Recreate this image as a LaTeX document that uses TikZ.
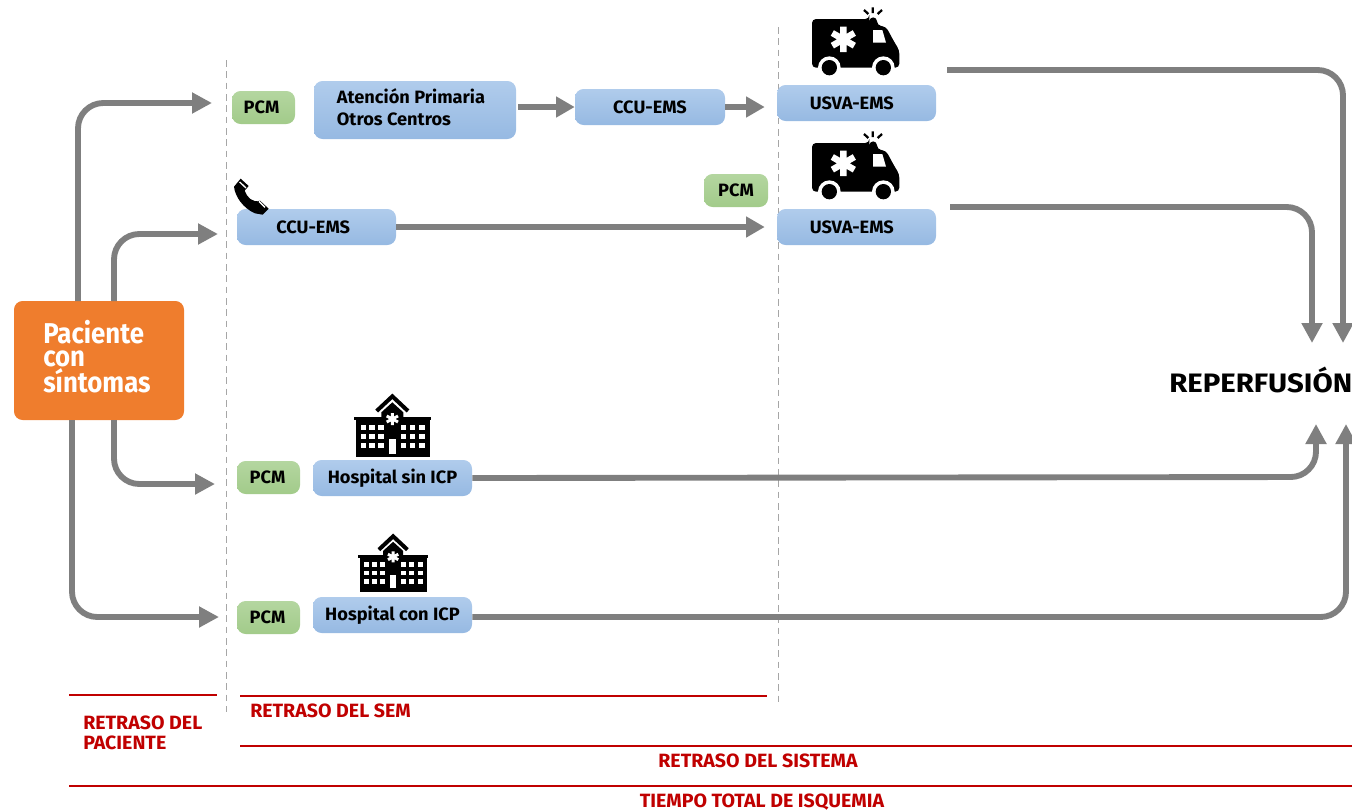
\documentclass[tikz,border=0pt]{standalone}
\usepackage{fontspec}
\setmainfont[FakeStretch=1.02]{Fira Sans}
\newfontfamily\pacfont[FakeStretch=0.90]{Fira Sans}
\newfontfamily\repfont[FakeStretch=1.1]{Fira Sans}
\usetikzlibrary{arrows.meta}
\definecolor{arrowgray}{HTML}{7F7F7F}
\definecolor{redline}{HTML}{C00000}
\definecolor{dashgray}{HTML}{A6A6A6}
\definecolor{blueT}{HTML}{B0CCEC}
\definecolor{blueB}{HTML}{96B9E2}
\definecolor{greenT}{HTML}{B4D6A0}
\definecolor{greenB}{HTML}{A2CB8A}
\newcommand{\bnode}[7][bluebox]{\node[#1,minimum width={(#5-#3)*0.75pt},minimum height={(#6-#4)*0.75pt}] (#2) at ({(#3+#5)/2},{(#4+#6)/2}) {#7};}
\tikzset{
  bluebox/.style={rectangle,rounded corners=6.5pt,top color=blueT,bottom color=blueB,draw=none,inner sep=0pt,font=\fontsize{13.4}{15}\selectfont\bfseries,text=black},
  greenbox/.style={bluebox,top color=greenT,bottom color=greenB},
  flow/.style={draw=arrowgray,line width=4.4pt,rounded corners=19pt,-{Triangle[length=15pt,width=15pt]}},
  flowshort/.style={draw=arrowgray,line width=4.4pt,-{Triangle[length=14pt,width=15pt]}},
  guide/.style={draw=dashgray,line width=0.7pt,dash pattern=on 5pt off 3.5pt},
  redrule/.style={draw=redline,line width=1.5pt},
  redtext/.style={text=redline,font=\fontsize{14.4}{15}\selectfont\bfseries,inner sep=0pt},
  ambulance/.pic={
    \begin{scope}[x=0.25pt,y=-0.25pt]
      \fill[black,rounded corners=3pt] (96,57) -- (268,57) -- (268,52) -- (291,52) -- (291,76) -- (318,80) -- (345,130) -- (358,150) -- (358,203) -- (96,203) -- cycle;
      \fill[white] (148,203) circle[radius=34] (310,203) circle[radius=34];
      \fill[black] (148,203) circle[radius=23] (310,203) circle[radius=23];
      \fill[white] (279,90) -- (307,90) -- (318,128) -- (279,128) -- cycle;
      \draw[white,line width=4.8pt] (190,80) -- (190,156) (157,99) -- (223,137) (157,137) -- (223,99);
      \draw[black,line width=1.7pt] (252,30) -- (265,42) (278,22) -- (278,39) (306,30) -- (293,42);
    \end{scope}
  },
  hospital/.pic={
    \begin{scope}[x=0.25pt,y=-0.25pt]
      \fill[black] (47,102) rectangle (270,216);
      \fill[black] (42,95) rectangle (272,105);
      \fill[black] (124,105) -- (124,82) -- (157,52) -- (190,82) -- (190,105) -- cycle;
      \draw[black,line width=3pt,miter limit=4] (110,78) -- (157,34) -- (204,78);
      \draw[white,line width=2.2pt] (157,84) -- (157,120) (140,93) -- (174,111) (140,111) -- (174,93);
      \foreach \cx in {62,88,115,183,210,238} \foreach \cy in {120,147,175}
        \fill[white] (\cx,\cy) rectangle ++(16,15);
      \fill[white] (146,162) rectangle (168,206);
    \end{scope}
  },
  phone/.pic={
    \begin{scope}[x=0.25pt,y=-0.25pt]
      \fill[black] (62,26) -- (86,48) -- (74,62) .. controls (80,82) and (100,100) .. (120,92) -- (146,116) -- (128,134) -- (105,130) .. controls (70,115) and (45,80) .. (42,50) -- cycle;
      \draw[white,line width=1pt] (59,36) -- (78,54) (117,94) -- (135,112);
    \end{scope}
  }
}
\begin{document}
\begin{tikzpicture}[x=0.75pt,y=-0.75pt]
\useasboundingbox (0,0) rectangle (1352,811);
\clip (0,0) rectangle (1352,811);
% guides
\coordinate (g1a) at (226,60); \coordinate (g1b) at (226,712);
\coordinate (g2a) at (778,27); \coordinate (g2b) at (778,702);
\draw[guide] (g1a) -- (g1b);
\draw[guide] (g2a) -- (g2b);
% patient
\node[rectangle,rounded corners=6.5pt,minimum width={170*0.75pt},minimum height={119*0.75pt},inner sep=0pt,fill={rgb,255:red,239;green,125;blue,45}] (pac) at (99,360.5) {};
\node[anchor=west,inner sep=0pt,text=white,font=\pacfont\fontsize{21.5}{17.2}\selectfont\bfseries,align=left] (pactext) at (43,356.5) {Paciente\\con\\síntomas};
% boxes
\bnode[greenbox]{pcmA}{232}{91}{295}{124}{\hspace*{-3pt}PCM}
\bnode{ap}{314}{81}{516}{139}{\hspace*{-6pt}\raisebox{-1pt}{\begin{tabular}{@{}l@{}}Atención Primaria\\[2pt]Otros Centros\end{tabular}}}
\bnode{ccuA}{575}{89}{725}{125}{\raisebox{-0.5pt}{CCU-EMS}}
\bnode{usvaA}{777}{85}{936}{121}{\hspace*{-7pt}USVA-EMS}
\bnode{ccuB}{237}{209}{396}{245}{\hspace*{-5pt}\raisebox{-1.5pt}{CCU-EMS}}
\bnode[greenbox]{pcmB}{704}{174}{768}{207}{PCM}
\bnode{usvaB}{777}{209}{936}{245}{\hspace*{-7pt}USVA-EMS}
\bnode[greenbox]{pcmC}{237}{461}{300}{494}{\hspace*{-1.5pt}PCM}
\bnode{hsin}{313}{460}{472}{496}{\raisebox{-1.5pt}{Hospital sin ICP}}
\bnode[greenbox]{pcmD}{237}{601}{300}{634}{\hspace*{-1.5pt}PCM}
\bnode{hcon}{313}{597}{472}{633}{\raisebox{-1.5pt}{Hospital con ICP}}
% icons
\pic at (780,0) {ambulance};
\pic at (780,124) {ambulance};
\pic at (340,385) {hospital};
\pic[scale=0.91] at (345.5,526) {hospital};
\pic at (220,170) {phone};
% named free ends
\coordinate (s1) at (78,301); \coordinate (t1) at (212,103); \coordinate (c1) at (78,103);
\coordinate (s2) at (114,301); \coordinate (t2) at (218,234); \coordinate (c2) at (114,234);
\coordinate (s3) at (114,420); \coordinate (t3) at (215,484); \coordinate (c3) at (114,484);
\coordinate (s4) at (72,420); \coordinate (t4) at (219,617); \coordinate (c4) at (72,617);
\coordinate (r1s) at (947,70); \coordinate (r1c) at (1343,70); \coordinate (r1t) at (1343,343);
\coordinate (r2s) at (950,207); \coordinate (r2c) at (1312,207); \coordinate (r2t) at (1312,343);
\coordinate (r3c) at (1316,477); \coordinate (r3t) at (1316,424);
\coordinate (r4c) at (1346,617); \coordinate (r4t) at (1346,424);
% connectors
\draw[flow] (s1) -- (c1) -- (t1);
\draw[flow] (s2) -- (c2) -- (t2);
\draw[flow] (s3) -- (c3) -- (t3);
\draw[flow] (s4) -- (c4) -- (t4);
\draw[flowshort] (ap.east |- ccuA.west) ++(2,-0) -- (ccuA.west);
\draw[flowshort] (ccuA.east) -- ([xshift=-9pt]usvaA.west |- ccuA.east);
\draw[flowshort] (ccuB.east |- 0,227) -- ([xshift=-9pt]usvaB.west |- 0,227);
\draw[flow] (r1s) -- (r1c) -- (r1t);
\draw[flow] (r2s) -- (r2c) -- (r2t);
\draw[flow] (hsin.east) -- (r3c) -- (r3t);
\draw[flow] (hcon.east |- 0,617) -- (r4c) -- (r4t);
% outcome
\node[anchor=west,inner sep=0pt,font=\repfont\fontsize{20}{22}\selectfont\bfseries,text=black] (rep) at (1169,380) {REPERFUSIÓN};
% delays
\coordinate (d1a) at (69,695); \coordinate (d1b) at (217,695);
\coordinate (d2a) at (240,696); \coordinate (d2b) at (767,696);
\coordinate (d3a) at (240,746); \coordinate (d3b) at (1352,746);
\coordinate (d4a) at (69,786); \coordinate (d4b) at (1352,786);
\draw[redrule] (d1a) -- (d1b);
\draw[redrule] (d2a) -- (d2b);
\draw[redrule] (d3a) -- (d3b);
\draw[redrule] (d4a) -- (d4b);
\node[redtext,anchor=west,align=left] (tp) at (83,733) {RETRASO DEL\\PACIENTE};
\node[redtext,anchor=west] (ts) at (250,711) {RETRASO DEL SEM};
\node[redtext] (tsis) at (758,761) {RETRASO DEL SISTEMA};
\node[redtext] (tt) at (762,802) {TIEMPO TOTAL DE ISQUEMIA};
\end{tikzpicture}
\end{document}
